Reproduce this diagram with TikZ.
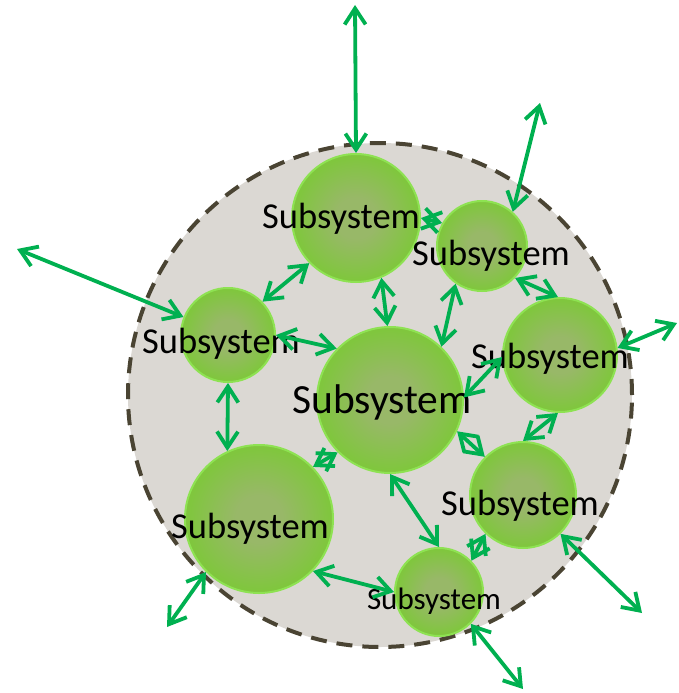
\documentclass[tikz,border=0pt]{standalone}
\usepackage{fontspec}
\setmainfont{Carlito}
\usetikzlibrary{arrows.meta}

\definecolor{arrowgreen}{HTML}{00B050}
\definecolor{discfill}{RGB}{219,216,211}
\definecolor{discedge}{HTML}{4A4433}
\definecolor{subcore}{RGB}{152,184,104}
\definecolor{submid}{RGB}{128,198,62}
\definecolor{subouter}{RGB}{118,204,48}
\definecolor{subrim}{RGB}{142,226,82}

% soft green ball: greyish core fading to a bright green edge
\pgfdeclareradialshading{subsysshade}{\pgfpoint{0bp}{0bp}}{%
  color(0bp)=(subcore); color(8bp)=(subcore); color(24bp)=(submid);
  color(46bp)=(subouter); color(50bp)=(subouter)}

\tikzset{
  subsys/.style={circle, inner sep=0pt, minimum size=#1, shade,
    shading=subsysshade, draw=subrim, line width=2pt},
  lbl/.style={anchor=base, inner sep=0pt, text=black,
    font=\fontsize{36.5}{40}\selectfont},
  link/.style={draw=arrowgreen, line width=3.8pt, line cap=round,
    >={Straight Barb[length=16pt,width=21pt]}, <->},
}

\begin{document}
\begin{tikzpicture}[x=1pt, y=-1pt]
  \useasboundingbox (0,0) rectangle (679,693);

  % the enclosing system
  \fill[discfill] (380,395) circle[radius=252pt];
  \draw[discedge, line width=4pt, dash pattern=on 16pt off 10pt]
    (380,395) circle[radius=252pt];

  % subsystems
  \node[subsys=128pt] (n1) at (356,218) {};
  \node[subsys=90pt]  (n2) at (482,246) {};
  \node[subsys=94pt]  (n3) at (228,335) {};
  \node[subsys=146pt] (n4) at (390,400) {};
  \node[subsys=114pt] (n5) at (560,355) {};
  \node[subsys=148pt] (n6) at (259,519) {};
  \node[subsys=106pt] (n7) at (523,495) {};
  \node[subsys=88pt]  (n8) at (439,592) {};

  % labels
  \node[lbl] (t1) at (341,228) {Subsystem};
  \node[lbl] (t2) at (491,265) {Subsystem};
  \node[lbl] (t3) at (221,353) {Subsystem};
  \node[lbl, font=\fontsize{41.5}{45}\selectfont] (t4) at (382,413) {Subsystem};
  \node[lbl] (t5) at (550,368) {Subsystem};
  \node[lbl] (t6) at (250,538) {Subsystem};
  \node[lbl] (t7) at (520,515) {Subsystem};
  \node[lbl, font=\fontsize{31}{34}\selectfont] (t8) at (434,609) {Subsystem};

  % outside ends of the boundary links
  \coordinate (e1) at (355,5);
  \coordinate (e2) at (540,103);
  \coordinate (e3) at (17,249);
  \coordinate (e4) at (677,323);
  \coordinate (e5) at (167,627);
  \coordinate (e6) at (642,613);
  \coordinate (e7) at (523,689);

  % links across the boundary
  \draw[link] (n1.90)  -- (e1);
  \draw[link] (n2.48)  -- (e2);
  \draw[link] (n3.158) -- (e3);
  \draw[link] (n5.7)   -- (e4);
  \draw[link] (n6.225) -- (e5);
  \draw[link] (n7.314) -- (e6);
  \draw[link] (n8.315) -- (e7);

  % links between subsystems
  \draw[link] (n1.0)   -- (n2.150);
  \draw[link] (n1.224) -- (n3.44);
  \draw[link] (n3.0)   -- (n4.136);
  \draw[link] (n1.293) -- (n4.92);
  \draw[link] (n2.235) -- (n4.46);
  \draw[link] (n2.316) -- (n5.92);
  \draw[link] (n5.182) -- (n4.2);
  \draw[link] (n3.270) -- (n6.115);
  \draw[link] (n6.44)  -- (n4.225);
  \draw[link] (n4.335) -- (n7.135);
  \draw[link] (n5.268) -- (n7.90);
  \draw[link] (n4.270) -- (n8.90);
  \draw[link] (n6.316) -- (n8.180);
  \draw[link] (n8.44)  -- (n7.226);
\end{tikzpicture}
\end{document}
